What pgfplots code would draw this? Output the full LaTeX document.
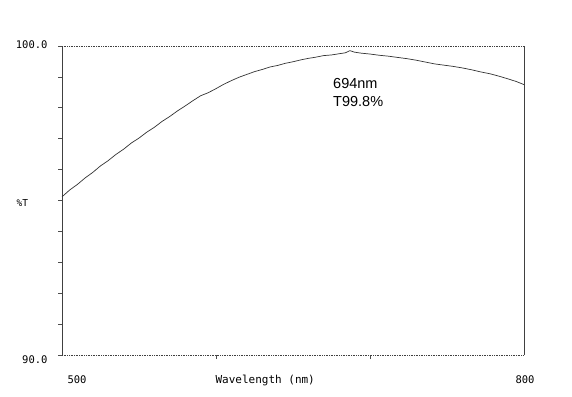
\documentclass[border=0pt]{standalone}
\usepackage{fontspec}
\setmainfont{Liberation Sans}
\setmonofont{DejaVu Sans Mono}
\usepackage{pgfplots}
\pgfplotsset{compat=1.18}
\begin{document}
\begin{tikzpicture}
\path[use as bounding box,fill=white] (0pt,0pt) rectangle (572pt,396pt);
\begin{axis}[
  at={(62pt,41pt)}, anchor=south west,
  scale only axis, width=462pt, height=309pt,
  xmin=500, xmax=800, ymin=90, ymax=100,
  axis line style={draw=none},
  xtick={600,700}, xticklabels={},
  ytick={90,91,...,100}, yticklabels={},
  xtick pos=bottom, ytick pos=left,
  tick align=outside,
  major tick length=4pt,
  tick style={black!70, line width=0.6pt},
  clip=false,
]
\draw[black!75, line width=0.8pt] (rel axis cs:0,0) -- (rel axis cs:0,1);
\draw[black!75, line width=0.8pt] (rel axis cs:1,0) -- (rel axis cs:1,1);
\draw[black!75, line width=0.7pt, densely dotted] (rel axis cs:0,0) -- (rel axis cs:1,0);
\draw[black!75, line width=0.7pt, densely dotted] (rel axis cs:0,1) -- (rel axis cs:1,1);
\addplot[black!80, line width=0.7pt] coordinates {
(500,95.12) (505,95.34) (510,95.52) (515,95.73) (520,95.91) (525,96.12)
(530,96.29) (535,96.49) (540,96.66) (545,96.86) (550,97.02) (555,97.21)
(560,97.37) (565,97.56) (570,97.72) (575,97.90) (580,98.06) (585,98.23)
(590,98.39) (595,98.49) (600,98.62) (605,98.76) (610,98.88) (615,98.99)
(620,99.08) (625,99.17) (630,99.24) (635,99.32) (640,99.37) (645,99.44)
(650,99.49) (655,99.55) (660,99.60) (665,99.64) (670,99.69) (675,99.71)
(680,99.75) (684,99.78) (687,99.85) (690,99.80) (694,99.77) (700,99.74)
(706,99.70) (712,99.67) (718,99.63) (724,99.59) (730,99.54) (736,99.48)
(742,99.42) (748,99.38) (754,99.34) (760,99.29) (766,99.23) (772,99.16)
(778,99.10) (784,99.02) (790,98.93) (795,98.85) (800,98.75)
};
\end{axis}
\node[anchor=east, font=\ttfamily\fontsize{10.5}{12}\selectfont] at (51pt,351pt) {100.0};
\node[anchor=east, font=\ttfamily\fontsize{10.5}{12}\selectfont] at (51pt,36pt) {90.0};
\node[anchor=west, font=\ttfamily\fontsize{9.5}{12}\selectfont] at (13pt,193pt) {\%T};
\node[anchor=west, font=\ttfamily\fontsize{10.5}{12}\selectfont] at (64pt,16pt) {500};
\node[anchor=west, font=\ttfamily\fontsize{10.5}{12}\selectfont] at (512pt,16pt) {800};
\node[anchor=west, font=\ttfamily\fontsize{11}{12}\selectfont] at (212pt,16pt) {Wavelength (nm)};
\node[anchor=base west, font=\fontsize{14.5}{16}\selectfont, inner sep=0pt] at (333pt,307pt) {694nm};
\node[anchor=base west, font=\fontsize{14.5}{16}\selectfont, inner sep=0pt] at (333pt,289pt) {T99.8\%};
\end{tikzpicture}
\end{document}
